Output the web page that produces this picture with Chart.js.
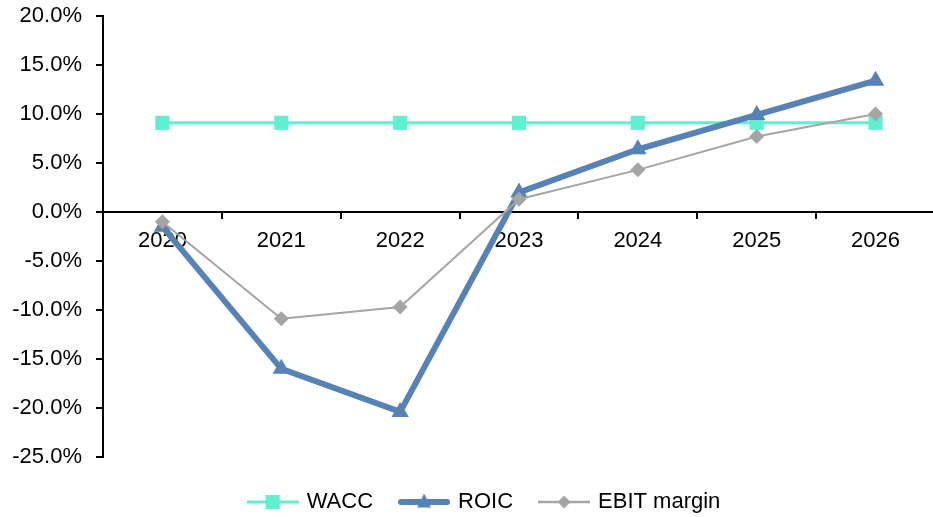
<!DOCTYPE html>
<html>
<head>
<meta charset="utf-8">
<script src="https://cdn.jsdelivr.net/npm/chart.js@4.4.1/dist/chart.umd.min.js"></script>
<style>
  html, body { margin: 0; padding: 0; background: #fff; overflow: hidden; }
  #wrap { width: 945px; height: 517px; }
</style>
</head>
<body>
<div id="wrap"><canvas id="chart" width="945" height="517"></canvas></div>
<script>
// Chart data
const years = ['2020', '2021', '2022', '2023', '2024', '2025', '2026'];
const wacc = [9.1, 9.1, 9.1, 9.1, 9.1, 9.1, 9.1];
const roic = [-1.5, -16.0, -20.4, 2.0, 6.4, 9.9, 13.4];
const ebitMargin = [-1.0, -10.9, -9.7, 1.3, 4.3, 7.7, 10.0];
const yTicks = [20, 15, 10, 5, 0, -5, -10, -15, -20, -25];

const FONT = 'Liberation Sans, Arial, sans-serif';

// small canvas with line + marker, used as legend symbol
function legendIcon(color, lineWidth, marker, size) {
    const c = document.createElement('canvas');
    c.width = 52;
    c.height = 20;
    const ctx = c.getContext('2d');
    ctx.strokeStyle = color;
    ctx.fillStyle = color;
    ctx.lineWidth = lineWidth;
    ctx.lineCap = lineWidth > 4 ? 'round' : 'butt';
    ctx.beginPath();
    ctx.moveTo(lineWidth > 4 ? 3 : 0, 10);
    ctx.lineTo(lineWidth > 4 ? 49 : 52, 10);
    ctx.stroke();
    ctx.beginPath();
    if (marker === 'rect') {
        ctx.rect(26 - size / 2, 10 - size / 2, size, size);
    } else if (marker === 'triangle') {
        ctx.moveTo(26, 10 - size * 0.6);
        ctx.lineTo(26 + size / 2, 10 + size * 0.4);
        ctx.lineTo(26 - size / 2, 10 + size * 0.4);
        ctx.closePath();
    } else {
        ctx.moveTo(26, 10 - size / 2);
        ctx.lineTo(26 + size / 2, 10);
        ctx.lineTo(26, 10 + size / 2);
        ctx.lineTo(26 - size / 2, 10);
        ctx.closePath();
    }
    ctx.fill();
    return c;
}

const colWacc = '#5EF0D0';
const colRoic = '#5682B6';
const colEbit = '#A5A5A5';

const icons = [
    legendIcon(colWacc, 3, 'rect', 14),
    legendIcon(colRoic, 6, 'triangle', 14),
    legendIcon(colEbit, 2.5, 'diamond', 13)
];

// nudge the legend a bit lower and to the right, like the original
const legendShift = {
    id: 'legendShift',
    afterLayout(chart) {
        const lg = chart.legend;
        if (!lg) return;
        lg.top += 6;
        lg.bottom += 6;
        lg.left += 14;
        lg.right += 14;
    }
};

new Chart(document.getElementById('chart'), {
    type: 'line',
    data: {
        labels: years,
        datasets: [
            {
                label: 'WACC',
                data: wacc,
                borderColor: colWacc,
                backgroundColor: colWacc,
                borderWidth: 3,
                pointStyle: 'rect',
                pointRadius: 10,
                pointBorderWidth: 0,
                order: 3
            },
            {
                label: 'ROIC',
                data: roic,
                borderColor: colRoic,
                backgroundColor: colRoic,
                borderWidth: 6,
                pointStyle: 'triangle',
                pointRadius: 10,
                pointBorderWidth: 0,
                order: 2
            },
            {
                label: 'EBIT margin',
                data: ebitMargin,
                borderColor: colEbit,
                backgroundColor: colEbit,
                borderWidth: 2,
                pointStyle: 'rectRot',
                pointRadius: 7.5,
                pointBorderWidth: 0,
                order: 1
            }
        ]
    },
    plugins: [legendShift],
    options: {
        responsive: false,
        animation: false,
        layout: { padding: { top: 16, right: 3, left: 0, bottom: 0 } },
        plugins: {
            tooltip: { enabled: false },
            legend: {
                position: 'bottom',
                labels: {
                    usePointStyle: true,
                    pointStyleWidth: 46,
                    padding: 28,
                    color: '#000',
                    font: { family: FONT, size: 22 },
                    generateLabels: chart => chart.data.datasets.map((ds, i) => ({
                        text: ds.label,
                        datasetIndex: i,
                        pointStyle: icons[i],
                        fillStyle: ds.backgroundColor,
                        strokeStyle: ds.borderColor,
                        lineWidth: 0,
                        hidden: false,
                        fontColor: '#000'
                    }))
                }
            }
        },
        scales: {
            x: {
                type: 'category',
                position: { y: 0 },
                offset: true,
                border: { display: true, color: '#000', width: 2 },
                grid: { display: true, drawOnChartArea: false, drawTicks: true, tickLength: 6, color: '#000', lineWidth: 2, offset: true },
                ticks: { color: '#000', font: { family: FONT, size: 22 }, padding: 10, maxRotation: 0 },
                afterFit: scale => { scale.paddingTop = 0; scale.paddingBottom = 0; }
            },
            y: {
                min: -25,
                max: 20,
                afterFit: scale => {
                    scale.width = 103;
                    scale.paddingTop = 0;
                    scale.paddingBottom = 0;
                },
                afterBuildTicks: scale => { scale.ticks = yTicks.map(v => ({ value: v })); },
                border: { display: true, color: '#000', width: 2 },
                grid: { display: true, drawOnChartArea: false, drawTicks: true, tickLength: 7, color: '#000', lineWidth: 2 },
                ticks: {
                    color: '#000',
                    font: { family: FONT, size: 22 },
                    padding: 14,
                    callback: v => v.toFixed(1) + '%'
                }
            }
        }
    }
});
</script>
</body>
</html>
